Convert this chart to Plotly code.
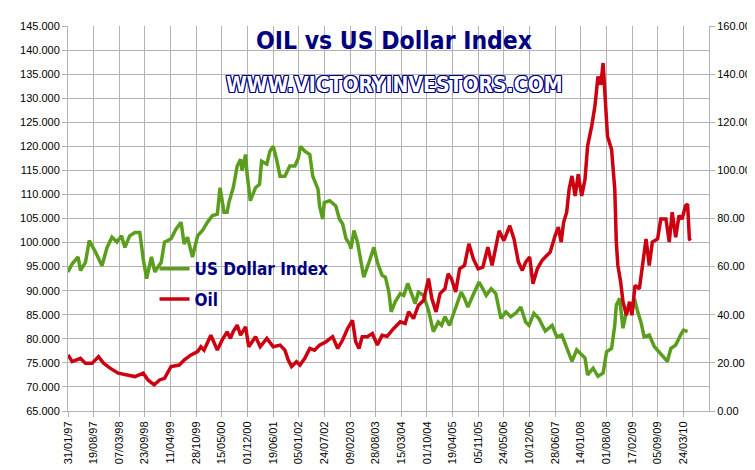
import pandas as pd
import plotly.graph_objects as go

# US Dollar Index (left axis)
usd_dates = [
    "1997-01-31", "1997-03-05", "1997-04-20", "1997-05-08", "1997-06-16", "1997-07-16",
    "1997-09-03", "1997-10-23", "1997-12-02", "1998-01-09", "1998-02-17", "1998-03-24",
    "1998-04-20", "1998-05-27", "1998-07-07", "1998-08-14", "1998-09-10", "1998-10-06",
    "1998-11-13", "1998-12-09", "1999-01-28", "1999-02-23", "1999-04-15", "1999-05-23",
    "1999-07-02", "1999-07-26", "1999-08-21", "1999-09-29", "1999-11-08", "1999-12-16",
    "2000-01-23", "2000-03-03", "2000-04-10", "2000-05-01", "2000-06-01", "2000-06-25",
    "2000-07-09", "2000-08-12", "2000-09-12", "2000-10-08", "2000-10-20", "2000-11-16",
    "2000-11-27", "2000-12-23", "2001-02-02", "2001-03-05", "2001-03-21", "2001-05-01",
    "2001-05-25", "2001-06-20", "2001-07-16", "2001-08-12", "2001-09-19", "2001-10-27",
    "2001-12-06", "2002-01-02", "2002-01-18", "2002-02-21", "2002-04-01", "2002-04-24",
    "2002-06-04", "2002-06-16", "2002-07-11", "2002-07-23", "2002-09-03", "2002-10-21",
    "2002-11-18", "2002-12-13", "2003-01-09", "2003-02-05", "2003-02-16", "2003-03-12",
    "2003-04-08", "2003-05-03", "2003-05-27", "2003-07-07", "2003-08-14", "2003-09-10",
    "2003-10-17", "2003-11-12", "2003-12-09", "2003-12-27", "2004-01-27", "2004-03-07",
    "2004-04-03", "2004-05-04", "2004-06-06", "2004-07-01", "2004-07-26", "2004-09-05",
    "2004-10-13", "2004-11-20", "2004-12-28", "2005-01-23", "2005-02-18", "2005-03-26",
    "2005-04-22", "2005-05-18", "2005-06-25", "2005-07-21", "2005-08-16", "2005-09-24",
    "2005-11-11", "2005-12-11", "2006-01-06", "2006-02-14", "2006-03-22", "2006-05-01",
    "2006-06-08", "2006-07-16", "2006-08-24", "2006-10-03", "2006-11-10", "2006-12-06",
    "2007-01-13", "2007-02-21", "2007-04-12", "2007-06-04", "2007-07-11", "2007-08-19",
    "2007-09-26", "2007-11-06", "2007-12-13", "2008-01-21", "2008-02-16", "2008-03-07",
    "2008-04-19", "2008-05-27", "2008-07-06", "2008-08-02", "2008-09-10", "2008-10-05",
    "2008-10-17", "2008-11-12", "2008-12-08", "2009-01-04", "2009-01-28", "2009-02-16",
    "2009-03-07", "2009-04-02", "2009-04-27", "2009-05-22", "2009-07-01", "2009-08-09",
    "2009-09-16", "2009-10-24", "2009-11-19", "2009-12-16", "2010-01-23", "2010-03-03",
    "2010-03-26", "2010-04-26",
]
usd_values = [
    93.9, 95.6, 97.0, 94.2, 95.9, 100.4,
    98.0, 95.2, 99.0, 101.1, 100.1, 101.4,
    99.0, 101.4, 102.1, 102.1, 96.6, 92.5,
    97.0, 93.9, 95.9, 100.1, 100.8, 102.8,
    104.2, 99.7, 101.1, 97.0, 101.4, 102.5,
    104.2, 105.6, 105.9, 111.4, 106.3, 106.3,
    108.3, 111.4, 115.9, 117.3, 114.9, 118.3,
    114.5, 108.7, 111.4, 112.1, 116.9, 116.3,
    119.0, 120.0, 117.3, 113.8, 113.8, 115.9,
    115.9, 117.6, 120.0, 119.0, 118.3, 113.8,
    111.1, 107.6, 104.9, 108.3, 108.7, 107.6,
    104.9, 103.9, 100.8, 99.7, 98.7, 102.5,
    100.1, 95.9, 92.8, 95.9, 99.0, 95.9,
    93.2, 92.8, 89.7, 85.6, 87.7, 89.4,
    89.0, 91.5, 89.0, 87.3, 89.7, 89.0,
    85.9, 81.5, 83.5, 82.8, 84.6, 82.8,
    84.9, 87.0, 89.7, 88.4, 86.6, 89.0,
    91.8, 90.4, 89.0, 90.4, 89.4, 84.2,
    85.6, 84.6, 85.3, 86.6, 83.5, 82.8,
    85.3, 84.2, 81.6, 82.8, 80.4, 80.8,
    78.0, 75.3, 77.7, 76.6, 76.0, 72.5,
    73.9, 72.2, 72.9, 77.3, 78.0, 82.8,
    87.0, 88.4, 82.2, 85.6, 87.0, 85.6,
    88.4, 85.6, 83.5, 80.4, 80.8, 78.4,
    77.3, 76.0, 75.3, 78.0, 78.7, 80.8,
    81.8, 81.5,
]

# Oil price (right axis)
oil_dates = [
    "1997-01-31", "1997-03-05", "1997-05-08", "1997-06-16", "1997-08-07", "1997-09-26",
    "1997-11-05", "1997-12-25", "1998-02-27", "1998-05-04", "1998-07-07", "1998-09-10",
    "1998-10-17", "1998-12-04", "1999-01-16", "1999-02-23", "1999-04-15", "1999-06-18",
    "1999-07-26", "1999-09-17", "1999-11-08", "1999-12-04", "1999-12-28", "2000-02-19",
    "2000-04-10", "2000-05-17", "2000-06-25", "2000-07-21", "2000-08-12", "2000-09-12",
    "2000-10-08", "2000-11-16", "2000-12-11", "2001-02-02", "2001-03-10", "2001-05-01",
    "2001-06-20", "2001-08-12", "2001-09-19", "2001-10-15", "2001-11-10", "2001-12-18",
    "2002-01-14", "2002-02-21", "2002-04-01", "2002-05-08", "2002-06-16", "2002-08-06",
    "2002-09-26", "2002-11-05", "2002-12-13", "2003-01-21", "2003-02-28", "2003-03-25",
    "2003-04-20", "2003-05-15", "2003-06-23", "2003-08-02", "2003-09-10", "2003-10-17",
    "2003-11-25", "2004-01-16", "2004-03-07", "2004-04-14", "2004-05-11", "2004-06-18",
    "2004-07-26", "2004-09-05", "2004-10-13", "2004-11-08", "2004-12-11", "2005-01-11",
    "2005-02-18", "2005-03-15", "2005-04-10", "2005-05-13", "2005-06-13", "2005-07-21",
    "2005-08-24", "2005-09-28", "2005-11-04", "2005-12-11", "2006-01-19", "2006-02-21",
    "2006-03-22", "2006-04-17", "2006-05-24", "2006-07-09", "2006-08-11", "2006-09-14",
    "2006-10-15", "2006-11-10", "2006-12-11", "2007-01-06", "2007-02-09", "2007-03-17",
    "2007-04-24", "2007-05-20", "2007-06-28", "2007-07-23", "2007-08-14", "2007-09-02",
    "2007-09-26", "2007-10-15", "2007-11-06", "2007-12-01", "2007-12-25", "2008-01-21",
    "2008-02-16", "2008-03-07", "2008-04-08", "2008-05-03", "2008-05-27", "2008-06-18",
    "2008-07-06", "2008-07-24", "2008-08-09", "2008-09-10", "2008-10-05", "2008-10-17",
    "2008-10-29", "2008-11-20", "2008-12-08", "2009-01-04", "2009-01-28", "2009-02-16",
    "2009-03-12", "2009-04-15", "2009-05-10", "2009-06-06", "2009-07-01", "2009-07-25",
    "2009-09-04", "2009-09-29", "2009-11-08", "2009-12-04", "2009-12-27", "2010-01-23",
    "2010-02-18", "2010-03-14", "2010-04-10", "2010-04-26", "2010-05-10", "2010-05-18",
]
oil_values = [
    23.3, 20.5, 21.9, 19.8, 19.8, 22.6,
    19.8, 17.8, 15.7, 15.0, 14.3, 15.7,
    12.9, 10.9, 12.9, 13.6, 18.5, 19.1,
    21.2, 23.3, 24.7, 26.7, 25.3, 31.5,
    25.3, 29.5, 32.9, 30.2, 33.0, 35.7,
    31.5, 35.0, 26.7, 30.9, 26.7, 30.2,
    26.7, 27.4, 25.3, 21.2, 18.5, 20.5,
    19.1, 21.9, 26.0, 25.3, 27.4, 28.8,
    30.9, 26.0, 29.5, 34.3, 37.7, 28.8,
    26.0, 30.9, 30.9, 32.2, 27.4, 31.5,
    31.0, 34.3, 37.1, 36.4, 41.2, 38.4,
    43.9, 46.0, 55.0, 46.7, 41.2, 48.8,
    50.8, 57.0, 55.0, 49.5, 59.1, 60.5,
    69.5, 63.2, 59.1, 59.8, 68.1, 60.5,
    67.4, 74.9, 70.8, 77.0, 71.5, 61.9,
    58.4, 61.9, 64.0, 52.9, 59.1, 62.5,
    64.6, 66.0, 72.9, 76.4, 70.2, 78.4,
    82.6, 92.2, 97.7, 89.4, 98.4, 89.4,
    96.3, 110.1, 118.4, 126.6, 139.0, 135.6,
    144.6, 128.0, 114.2, 108.7, 92.2, 70.2,
    60.5, 53.6, 45.4, 39.8, 45.4, 39.8,
    52.2, 50.8, 61.9, 71.5, 60.5, 70.2,
    71.5, 79.8, 79.8, 70.2, 82.6, 72.2,
    81.2, 79.8, 85.3, 86.0, 71.5, 70.8,
]

tick_labels = [
    "31/01/97", "19/08/97", "07/03/98", "23/09/98", "11/04/99", "28/10/99", "15/05/00",
    "01/12/00", "19/06/01", "05/01/02", "24/07/02", "09/02/03", "28/08/03", "15/03/04",
    "01/10/04", "19/04/05", "05/11/05", "24/05/06", "10/12/06", "28/06/07", "14/01/08",
    "01/08/08", "17/02/09", "05/09/09", "24/03/10",
]
tick_dates = pd.to_datetime(tick_labels, format="%d/%m/%y")

grid = "#b3b3b3"
navy = "#000080"
narrow = "DejaVu Sans Condensed, Liberation Sans Narrow, Arial Narrow, sans-serif"
plain = "Liberation Sans, Arial, sans-serif"

fig = go.Figure()
fig.add_trace(go.Scatter(
    x=pd.to_datetime(usd_dates), y=usd_values, name="US Dollar Index",
    mode="lines", line=dict(color="#5b9e1e", width=3.5), legendgroup="usd",
))
fig.add_trace(go.Scatter(
    x=pd.to_datetime(oil_dates), y=oil_values, name="Oil", yaxis="y2",
    mode="lines", line=dict(color="#cc0010", width=3.5), legendgroup="oil",
))

fig.update_layout(
    width=755, height=470,
    margin=dict(l=57, r=50, t=16, b=67),
    paper_bgcolor="white", plot_bgcolor="white",
    font=dict(family=plain, size=11, color="black"),
    xaxis=dict(
        type="date",
        range=[tick_dates[0], tick_dates[0] + pd.Timedelta(days=5000)],
        tickvals=tick_dates, ticktext=tick_labels, tickangle=-90,
        showgrid=True, gridcolor=grid, gridwidth=1,
        ticks="outside", ticklen=5, tickcolor=grid,
        showline=True, linecolor=grid, zeroline=False,
    ),
    yaxis=dict(
        range=[65, 145], dtick=5, tick0=65, tickformat=".3f",
        showgrid=True, gridcolor=grid, gridwidth=1,
        ticks="outside", ticklen=5, tickcolor=grid,
        showline=True, linecolor=grid, zeroline=False,
    ),
    yaxis2=dict(
        overlaying="y", side="right",
        range=[0, 160], dtick=20, tickformat=".2f",
        showgrid=False, ticks="outside", ticklen=5, tickcolor=grid,
        showline=True, linecolor=grid, zeroline=False,
    ),
    legend=dict(
        x=0.135, y=0.415, xanchor="left", yanchor="top",
        bgcolor="rgba(0,0,0,0)", itemwidth=30,
        traceorder="grouped", tracegroupgap=5,
        font=dict(family=narrow, size=17, color=navy, weight="bold"),
    ),
    annotations=[
        dict(
            text="OIL vs US Dollar Index", xref="paper", yref="paper",
            x=0.508, y=0.963, xanchor="center", yanchor="middle", showarrow=False,
            font=dict(family=narrow, size=24.5, color=navy, weight="bold"),
        ),
        dict(
            text="WWW.VICTORYINVESTORS.COM", xref="paper", yref="paper",
            x=0.51, y=0.847, xanchor="center", yanchor="middle", showarrow=False,
            font=dict(
                family=narrow, size=21, color="white", weight="bold",
                shadow=("1px 1px 0 #000080, -1px -1px 0 #000080, "
                        "1px -1px 0 #000080, -1px 1px 0 #000080, "
                        "0 1px 0 #000080, 0 -1px 0 #000080, "
                        "1px 0 0 #000080, -1px 0 0 #000080"),
            ),
        ),
    ],
)

fig.write_html("out.html")
